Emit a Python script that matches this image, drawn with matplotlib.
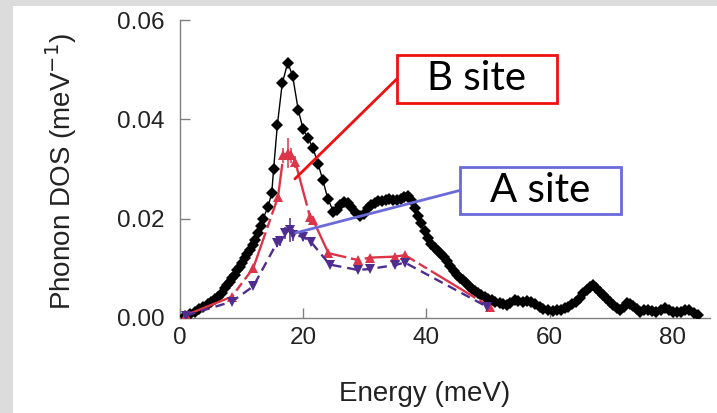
import matplotlib
matplotlib.use("Agg")
import matplotlib.pyplot as plt
from matplotlib.patches import Rectangle

# Total phonon DOS (black diamonds)
tot_e = [0.8, 1.6, 2.4, 3.1, 3.8, 4.5, 5.1, 5.7, 6.2, 6.8, 7.3, 7.7, 8.1, 8.5, 8.9,
         9.3, 9.7, 10.1, 10.5, 10.9, 11.35, 11.8, 12.2, 12.7, 13.1, 13.5, 14.3, 14.9,
         15.2, 15.8, 16.6, 17.5, 18.3, 19.2, 20.0, 20.8, 21.6, 22.4, 23.2, 24.0, 24.9,
         25.5, 26.0, 26.6, 27.2, 27.8, 28.5, 29.2, 29.8, 30.5, 31.0, 31.6, 32.2, 32.8,
         33.4, 34.0, 34.6, 35.2, 35.8, 36.4, 37.0, 37.5, 38.1, 38.6, 39.1, 39.7, 40.2,
         40.8, 41.4, 41.9, 42.4, 42.9, 43.4, 43.9, 44.4, 44.9, 45.4, 45.9, 46.4, 46.9,
         47.4, 47.9, 48.4, 48.9, 49.5, 50.0, 50.6, 51.2, 51.9, 52.5, 53.0, 53.6, 54.3,
         54.9, 55.6, 56.3, 57.0, 57.7, 58.4, 59.0, 59.7, 60.5, 61.2, 61.9, 62.5, 63.0,
         63.7, 64.3, 64.9, 65.4, 66.0, 66.5, 67.0, 67.5, 68.1, 68.7, 69.2, 69.8, 70.3,
         70.9, 71.4, 72.0, 72.5, 73.0, 73.5, 74.1, 74.6, 75.3, 76.0, 76.6, 77.3, 78.0,
         78.7, 79.3, 80.0, 80.7, 81.4, 82.0, 82.7, 83.4, 84.1]
tot_dos = [0.0003, 0.0007, 0.0012, 0.0017, 0.0022, 0.0027, 0.0032, 0.0037, 0.0042, 0.0050,
           0.0059, 0.0065, 0.0072, 0.0079, 0.0086, 0.0095, 0.0103, 0.0111, 0.0120, 0.0128,
           0.0136, 0.0146, 0.0157, 0.0171, 0.0185, 0.0200, 0.0224, 0.0252, 0.0300, 0.0388,
           0.0473, 0.0515, 0.0487, 0.0419, 0.0380, 0.0362, 0.0342, 0.0311, 0.0277, 0.0240,
           0.0214, 0.0218, 0.0227, 0.0233, 0.0232, 0.0224, 0.0212, 0.0206, 0.0210, 0.0221,
           0.0228, 0.0232, 0.0235, 0.0236, 0.0238, 0.0240, 0.0238, 0.0237, 0.0239, 0.0243,
           0.0245, 0.0238, 0.0222, 0.0205, 0.0190, 0.0175, 0.0160, 0.0148, 0.0140, 0.0134,
           0.0129, 0.0122, 0.0114, 0.0104, 0.0094, 0.0086, 0.0080, 0.0075, 0.0070, 0.0064,
           0.0058, 0.0053, 0.0049, 0.0045, 0.0042, 0.0038, 0.0035, 0.0031, 0.0029, 0.0027,
           0.0025, 0.0030, 0.0035, 0.0033, 0.0032, 0.0034, 0.0032, 0.0027, 0.0022, 0.0018,
           0.0015, 0.0014, 0.0015, 0.0016, 0.0019, 0.0022, 0.0027, 0.0032, 0.0040, 0.0049,
           0.0056, 0.0062, 0.0066, 0.0060, 0.0052, 0.0045, 0.0039, 0.0032, 0.0025, 0.0019,
           0.0016, 0.0022, 0.0029, 0.0027, 0.0024, 0.0017, 0.0012, 0.0016, 0.0015, 0.0013,
           0.0012, 0.0015, 0.0019, 0.0016, 0.0012, 0.0011, 0.0012, 0.0015, 0.0015, 0.0010,
           0.0005]

# B site partial DOS (red, up triangles)
b_e = [1.0, 8.4, 11.9, 15.9, 16.8, 17.6, 18.1, 18.7, 21.1, 21.6, 24.1, 28.9, 30.8, 34.9, 36.5, 50.3]
b_dos = [0.0005, 0.0042, 0.0100, 0.0243, 0.0328, 0.0332, 0.0328, 0.0315, 0.0204, 0.0197,
         0.0130, 0.0116, 0.0121, 0.0123, 0.0126, 0.0022]
b_err = [0.0003, 0.0004, 0.0005, 0.0008, 0.0015, 0.0030, 0.0015, 0.0012, 0.0008, 0.0008,
         0.0005, 0.0006, 0.0006, 0.0006, 0.0006, 0.0003]

# A site partial DOS (purple, down triangles)
a_e = [1.0, 8.4, 11.9, 15.7, 16.3, 17.0, 17.8, 18.4, 20.0, 21.3, 24.3, 28.9, 30.8, 34.9, 36.5, 49.8]
a_dos = [0.0004, 0.0032, 0.0063, 0.0150, 0.0155, 0.0170, 0.0177, 0.0167, 0.0163, 0.0152,
         0.0107, 0.0096, 0.0098, 0.0106, 0.0111, 0.0022]
a_err = [0.0003, 0.0004, 0.0005, 0.0008, 0.0010, 0.0012, 0.0025, 0.0012, 0.0008, 0.0008,
         0.0005, 0.0006, 0.0006, 0.0006, 0.0006, 0.0003]

x_ticks = [0, 20, 40, 60, 80]
y_ticks = [0.00, 0.02, 0.04, 0.06]
y_tick_labels = ["0.00", "0.02", "0.04", "0.06"]

RED = "#dc3448"
PURPLE = "#4f2d8f"
AXIS_GRAY = "#808080"

plt.rcParams["font.family"] = ["Liberation Sans", "DejaVu Sans"]

fig = plt.figure(figsize=(7.17, 4.13), dpi=100, facecolor="#dcdcdc")
# white slide panel
fig.patches.append(Rectangle((0.018, 0.0), 0.982, 0.985, transform=fig.transFigure,
                             facecolor="white", edgecolor="none", zorder=-10))

ax = fig.add_axes([0.251, 0.2312, 0.739, 0.7192])
ax.set_facecolor("none")

ax.plot(tot_e, tot_dos, color="black", lw=1.0, marker="D", ms=6.2,
        markeredgewidth=0, zorder=3)

ax.errorbar(b_e, b_dos, yerr=b_err, color=RED, lw=1.7, marker="^", ms=6.5,
            markeredgewidth=0, elinewidth=1.1, capsize=0,
            linestyle=(0, (22, 2, 4, 2)), zorder=4)
ax.errorbar(a_e, a_dos, yerr=a_err, color=PURPLE, lw=1.7, marker="v", ms=6.5,
            markeredgewidth=0, elinewidth=1.1, capsize=0,
            linestyle=(0, (4, 2.5)), zorder=4)

ax.set_xlim(0, 86)
ax.set_ylim(0, 0.06)
ax.set_xticks(x_ticks)
ax.set_yticks(y_ticks)
ax.set_yticklabels(y_tick_labels)

# Disable top/right spines, grey axes
ax.spines["right"].set_visible(False)
ax.spines["top"].set_visible(False)
for side in ("left", "bottom"):
    ax.spines[side].set_color(AXIS_GRAY)
    ax.spines[side].set_linewidth(1.0)
ax.tick_params(direction="in", length=7, width=1.0, color=AXIS_GRAY,
               labelsize=17.5, labelcolor="#222222")
ax.tick_params(axis="y", pad=11)
ax.tick_params(axis="x", pad=7)

ax.set_xlabel("Energy (meV)", fontsize=20, color="#222222", va="top")
ax.xaxis.set_label_coords(0.462, -0.215)
ax.set_ylabel("Phonon DOS (meV$^{-1}$)", fontsize=20, color="#222222", va="center")
ax.yaxis.set_label_coords(-0.225, 0.49)

# Site callouts
def callout(cx, cy, w, h, text, edge, target):
    fig.patches.append(Rectangle((cx - w / 2, cy - h / 2), w, h, transform=fig.transFigure,
                                 facecolor="white", edgecolor=edge, lw=2, zorder=5))
    fig.text(cx, cy, text, ha="center", va="center", fontsize=29,
             family=["Lato", "DejaVu Sans"], color="black", zorder=6)
    ax.annotate("", xy=target, xycoords="data",
                xytext=(cx - w / 2, cy), textcoords="figure fraction",
                arrowprops=dict(arrowstyle="-", color=edge, lw=2,
                                shrinkA=0, shrinkB=0), zorder=6)

callout(0.665, 0.809, 0.223, 0.116, "B site", "#f01010", (18.65, 0.0280))
callout(0.754, 0.539, 0.225, 0.114, "A site", "#6a6ad8", (18.8, 0.0171))

fig.savefig("out.png", dpi=100, facecolor=fig.get_facecolor())
